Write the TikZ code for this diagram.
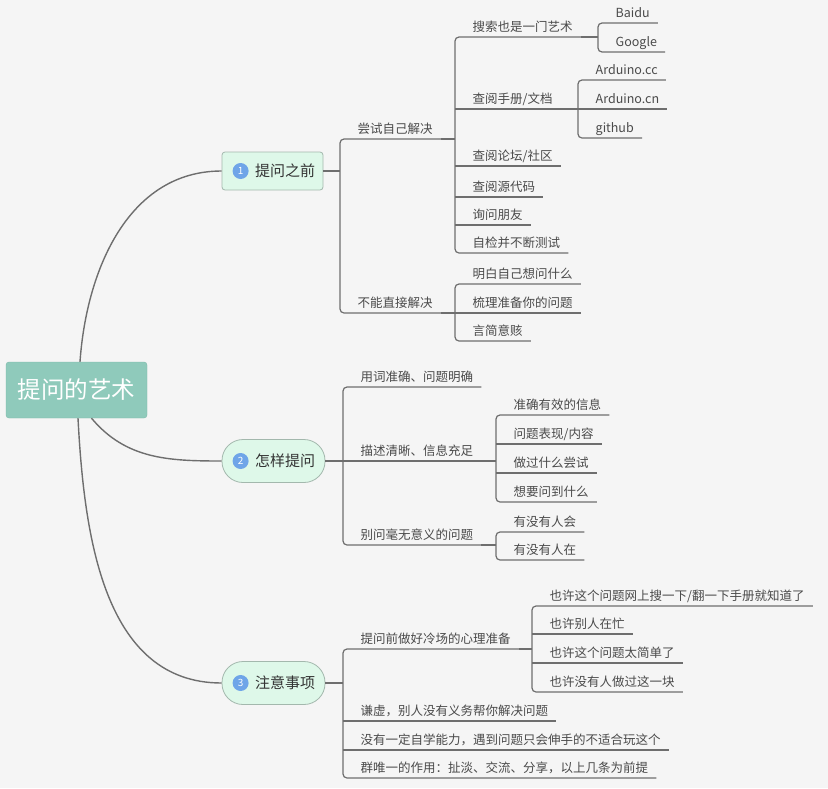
\documentclass[tikz,border=0pt]{standalone}
\usepackage{fontspec}
\usepackage{xcolor}
\usetikzlibrary{positioning}
\newfontfamily\cjk{Noto Sans CJK SC}
\definecolor{bgc}{HTML}{F5F5F5}
\definecolor{rootc}{HTML}{8FCABB}
\definecolor{rootd}{HTML}{7DB9A9}
\definecolor{topicc}{HTML}{DEF8E9}
\definecolor{topicd}{HTML}{A3B8AD}
\definecolor{numc}{HTML}{6FA5E8}
\definecolor{linec}{HTML}{6E6E6E}
\definecolor{txtc}{HTML}{4A4A4A}

\tikzset{
  root/.style={rectangle, fill=rootc, draw=rootd, rounded corners=3pt, minimum width=141pt, minimum height=56pt, font=\cjk\fontsize{23.5}{28}\selectfont, text=white},
  topic/.style={fill=topicc, draw=topicd, line width=0.8pt, minimum width=103pt, minimum height=43pt},
  num/.style={circle, fill=numc, text=white, inner sep=0pt, minimum size=16pt, font=\cjk\fontsize{10}{12}\selectfont},
  toptxt/.style={inner sep=0pt, font=\cjk\fontsize{15}{18}\selectfont, text=black!80},
  kid/.style={anchor=south west, inner xsep=8pt, inner ysep=3.5pt, text height=9.5pt, text depth=1.5pt, font=\cjk\fontsize{12.5}{15}\selectfont, text=txtc},
  line/.style={draw=linec, line width=1.2pt},
  branch/.style={draw=linec, line width=1.4pt}
}

\begin{document}
\begin{tikzpicture}[x=1pt, y=-1pt]
\fill[bgc] (0,0) rectangle (828,788);

% root and main topics
\node[root] (root) at (76.5,390) {提问的艺术};
\node[topic, rounded corners=3pt, minimum width=101pt, minimum height=38pt] (t1) at (272.5,171) {};
\node[topic, rounded corners=21pt] (t2) at (273.5,461) {};
\node[topic, rounded corners=21pt] (t3) at (273.5,683) {};
\foreach \i/\s in {1/提问之前, 2/怎样提问, 3/注意事项}{
  \node[num] (n\i) at ([xshift=19pt]t\i.west) {\i};
  \node[toptxt, right=6pt of n\i] (l\i) {\s};
}

\draw[branch] ([xshift=3.5pt]root.north) to[out=86,in=180] (t1.west);
\draw[branch] ([xshift=15pt]root.south) to[out=-50,in=180] (t2.west);
\draw[branch] ([xshift=1.5pt]root.south) to[out=-87,in=180] (t3.west);

% junctions
\coordinate (j1) at (340,171);
\coordinate (j2) at (343,461);
\coordinate (j3) at (343,683);
\coordinate (j11) at (455,139);
\coordinate (j12) at (455,313);
\coordinate (j111) at (598,37);
\coordinate (j112) at (578,109);
\coordinate (j22) at (496,461);
\coordinate (j23) at (496,545);
\coordinate (j31) at (532,649);

% level 1
\node[kid] (c1) at (349.5,139) {尝试自己解决};
\node[kid] (c2) at (349.5,313) {不能直接解决};
\node[kid] (d1) at (352.5,387) {用词准确、问题明确};
\node[kid] (d2) at (352.5,461) {描述清晰、信息充足};
\node[kid] (d3) at (352.5,545) {别问毫无意义的问题};
\node[kid] (e1) at (352.5,649) {提问前做好冷场的心理准备};
\node[kid] (e2) at (352.5,721) {谦虚，别人没有义务帮你解决问题};
\node[kid] (e3) at (352.5,750) {没有一定自学能力，遇到问题只会伸手的不适合玩这个};
\node[kid] (e4) at (352.5,778) {群唯一的作用：扯淡、交流、分享，以上几条为前提};

% level 2
\node[kid] (a1) at (464.5,37) {搜索也是一门艺术};
\node[kid] (a2) at (464.5,109) {查阅手册/文档};
\node[kid] (a3) at (464.5,166) {查阅论坛/社区};
\node[kid] (a4) at (464.5,197) {查阅源代码};
\node[kid] (a5) at (464.5,225) {询问朋友};
\node[kid] (a6) at (464.5,253) {自检并不断测试};
\node[kid] (b1) at (464.5,284) {明白自己想问什么};
\node[kid] (b2) at (464.5,313) {梳理准备你的问题};
\node[kid] (b3) at (464.5,341) {言简意赅};
\node[kid] (f1) at (505.5,415) {准确有效的信息};
\node[kid] (f2) at (505.5,444) {问题表现/内容};
\node[kid] (f3) at (505.5,473) {做过什么尝试};
\node[kid] (f4) at (505.5,502) {想要问到什么};
\node[kid] (g1) at (505.5,532) {有没有人会};
\node[kid] (g2) at (505.5,560) {有没有人在};
\node[kid] (h1) at (541.5,606) {也许这个问题网上搜一下/翻一下手册就知道了};
\node[kid] (h2) at (541.5,634) {也许别人在忙};
\node[kid] (h3) at (541.5,663) {也许这个问题太简单了};
\node[kid] (h4) at (541.5,692) {也许没有人做过这一块};

% level 3
\node[kid] (a11) at (607.5,23) {Baidu};
\node[kid] (a12) at (607.5,52) {Google};
\node[kid] (a21) at (587.5,80) {Arduino.cc};
\node[kid] (a22) at (587.5,109) {Arduino.cn};
\node[kid] (a23) at (587.5,138) {github};

% stubs into the brackets
\draw[line] (t1.east) -- (t1.east -| j1);
\draw[line] (t2.east) -- (t2.east -| j2);
\draw[line] (t3.east) -- (t3.east -| j3);
\draw[line] (c1.south east) -- (j11);
\draw[line] (c2.south east) -- (j12);
\draw[line] (a1.south east) -- (j111);
\draw[line] (a2.south east) -- (j112);
\draw[line] (d2.south east) -- (j22);
\draw[line] (d3.south east) -- (j23);
\draw[line] (e1.south east) -- (j31);

% brackets and underlines
\draw[line, rounded corners=4pt] (c1.south east) -- (j1 |- c1.south) -- (j1 |- c2.south) -- (c2.south east);
\draw[line, rounded corners=4pt] (d1.south east) -- (j2 |- d1.south) -- (j2 |- d3.south) -- (d3.south east);
\draw[line] (j2 |- d2.south) -- (d2.south east);
\draw[line, rounded corners=4pt] (e1.south east) -- (j3 |- e1.south) -- (j3 |- e4.south) -- (e4.south east);
\foreach \k in {e2,e3}
  \draw[line] (j3 |- \k.south) -- (\k.south east);

\draw[line, rounded corners=4pt] (a1.south east) -- (j11 |- a1.south) -- (j11 |- a6.south) -- (a6.south east);
\foreach \k in {a2,a3,a4,a5}
  \draw[line] (j11 |- \k.south) -- (\k.south east);
\draw[line, rounded corners=4pt] (b1.south east) -- (j12 |- b1.south) -- (j12 |- b3.south) -- (b3.south east);
\draw[line] (j12 |- b2.south) -- (b2.south east);

\draw[line, rounded corners=4pt] (a11.south east) -- (j111 |- a11.south) -- (j111 |- a12.south) -- (a12.south east);
\draw[line, rounded corners=4pt] (a21.south east) -- (j112 |- a21.south) -- (j112 |- a23.south) -- (a23.south east);
\draw[line] (j112 |- a22.south) -- (a22.south east);

\draw[line, rounded corners=4pt] (f1.south east) -- (j22 |- f1.south) -- (j22 |- f4.south) -- (f4.south east);
\foreach \k in {f2,f3}
  \draw[line] (j22 |- \k.south) -- (\k.south east);
\draw[line, rounded corners=4pt] (g1.south east) -- (j23 |- g1.south) -- (j23 |- g2.south) -- (g2.south east);

\draw[line, rounded corners=4pt] (h1.south east) -- (j31 |- h1.south) -- (j31 |- h4.south) -- (h4.south east);
\foreach \k in {h2,h3}
  \draw[line] (j31 |- \k.south) -- (\k.south east);
\end{tikzpicture}
\end{document}
